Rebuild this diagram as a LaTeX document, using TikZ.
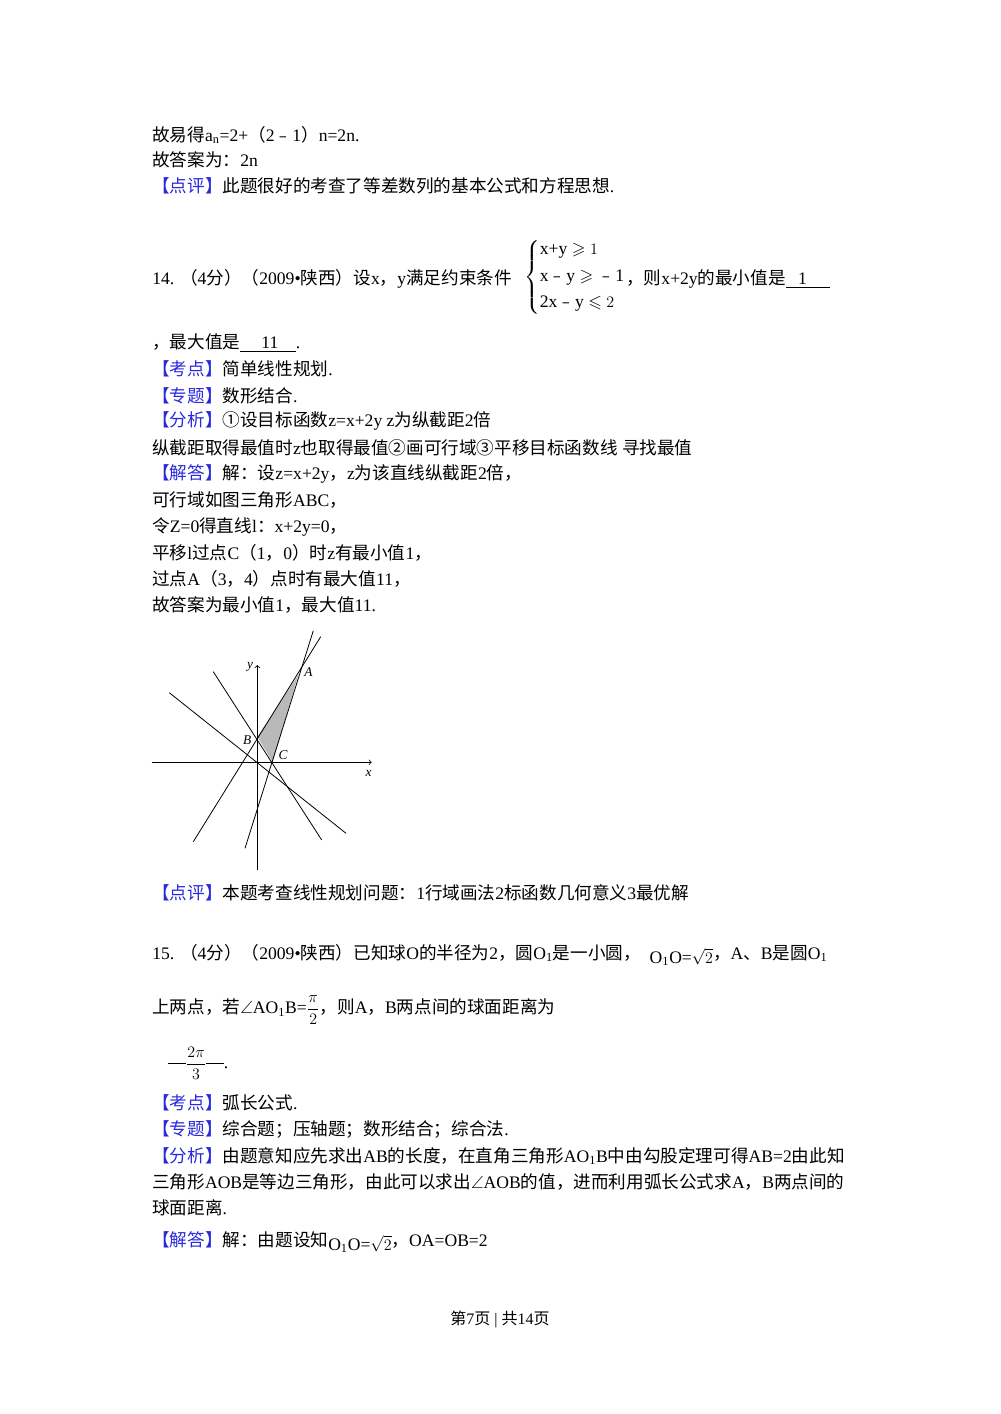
\documentclass[tikz,border=0pt]{standalone}
\usepackage{amssymb,amsmath}
\usepackage{fontspec}
\setmainfont{Liberation Serif}
\newfontfamily\cjk{Noto Sans CJK SC}
\XeTeXinterchartokenstate=1
\newXeTeXintercharclass\CJKcls
\newcount\cc
\def\setcls#1#2{\cc=#1 \loop \XeTeXcharclass\cc=\CJKcls \ifnum\cc<#2 \advance\cc by 1 \repeat}
\setcls{"3000}{"9FFF}
\setcls{"FF00}{"FFEF}
\setcls{"FE30}{"FE6F}
\setcls{"2460}{"2473}
\XeTeXinterchartoks 0 \CJKcls = {\begingroup\cjk}
\XeTeXinterchartoks 4095 \CJKcls = {\begingroup\cjk}
\XeTeXinterchartoks \CJKcls 0 = {\endgroup}
\XeTeXinterchartoks \CJKcls 4095 = {\endgroup}
\definecolor{tagblue}{RGB}{40,40,220}
\newcommand{\tg}[1]{\textcolor{tagblue}{#1}}
\begin{document}
\begin{tikzpicture}[x=0.75pt,y=-0.75pt,
  tx/.style={anchor=west,inner sep=0pt,font=\fontsize{13.2}{16}\selectfont},
  lab/.style={inner sep=0pt,font=\fontsize{10}{12}\selectfont\itshape},
  ln/.style={line width=0.6pt}]
\useasboundingbox (0,0) rectangle (1000,1414);
\node[tx] (l1) at (152,135) {故易得a$_{\mathrm{n}}$=2+（2﹣1）n=2n.};
\node[tx] (l2) at (152,160) {故答案为：2n};
\node[tx] (l3) at (152,186) {\tg{【点评】}此题很好的考查了等差数列的基本公式和方程思想.};
\node[tx] (q14) at (152,279) {14. （4分）（2009•陕西）设x，y满足约束条件};
\node[tx,anchor=west] (sys) at (524,277) {$\left\{\begin{array}{@{}l@{}}\mbox{x+y}\geqslant 1\\[4pt] \mbox{x﹣y}\geqslant \mbox{﹣1}\\[4pt] \mbox{2x﹣y}\leqslant 2\end{array}\right.$};
\node[tx] (q14b) at (626,279) {，则x+2y的最小值是\underline{\hspace{0.7em}1\hspace{1.3em}}};
\node[tx] (l5) at (152,343) {，最大值是\underline{\hspace{1.2em}11\hspace{1em}}.};
\node[tx] (l6) at (152,369) {\tg{【考点】}简单线性规划.};
\node[tx] (l7) at (152,396) {\tg{【专题】}数形结合.};
\node[tx] (l8) at (152,421) {\tg{【分析】}①设目标函数z=x+2y z为纵截距2倍};
\node[tx] (l9) at (152,448) {纵截距取得最值时z也取得最值②画可行域③平移目标函数线 寻找最值};
\node[tx] (l10) at (152,474) {\tg{【解答】}解：设z=x+2y，z为该直线纵截距2倍，};
\node[tx] (l11) at (152,500) {可行域如图三角形ABC，};
\node[tx] (l12) at (152,527) {令Z=0得直线l：x+2y=0，};
\node[tx] (l13) at (152,553) {平移l过点C（1，0）时z有最小值1，};
\node[tx] (l14) at (152,579) {过点A（3，4）点时有最大值11，};
\node[tx] (l15) at (152,605) {故答案为最小值1，最大值11.};
% graph
\coordinate (A) at (298.3,675);
\coordinate (B) at (257.3,736.7);
\coordinate (C) at (272.7,762.3);
\fill[gray!55] (A) -- (B) -- (C) -- cycle;
\draw[ln,->] (151.7,762.3) -- (371.7,762.3);
\draw[ln,->] (257.3,870) -- (257.3,665);
\draw[ln] (193.3,841.7) -- (320.7,636.7);
\draw[ln] (245,848.3) -- (313.3,630.7);
\draw[ln] (213.3,671.7) -- (321.7,840);
\draw[ln] (169.3,692.7) -- (346,833.3);
\node[lab] (lA) at (308.5,671.7) {A};
\node[lab] (lB) at (247.3,740) {B};
\node[lab] (lC) at (283,755) {C};
\node[lab] (ly) at (250,667) {y};
\node[lab] (lx) at (368.5,773) {x};
\node[tx] (l16) at (152,893) {\tg{【点评】}本题考查线性规划问题：1行域画法2标函数几何意义3最优解};
\node[tx] (q15) at (152,955) {15. （4分）（2009•陕西）已知球O的半径为2，圆O$_{\mathrm{1}}$是一小圆，\ \ \raisebox{-3pt}{O$_{\mathrm{1}}$O=$\sqrt{2}$}，A、B是圆O$_{\mathrm{1}}$};
\node[tx] (l17) at (152,1010) {上两点，若$\angle$AO$_{\mathrm{1}}$B=$\dfrac{\pi}{2}$，则A，B两点间的球面距离为};
\node[tx] (l18) at (168,1063) {\rule[3pt]{1em}{0.5pt}$\dfrac{2\pi}{3}$\rule[3pt]{1em}{0.5pt}.};
\node[tx] (l19) at (152,1103) {\tg{【考点】}弧长公式.};
\node[tx] (l20) at (152,1129) {\tg{【专题】}综合题；压轴题；数形结合；综合法.};
\node[tx] (l21) at (152,1156) {\tg{【分析】}由题意知应先求出AB的长度，在直角三角形AO$_{\mathrm{1}}$B中由勾股定理可得AB=2由此知};
\node[tx] (l22) at (152,1182) {三角形AOB是等边三角形，由此可以求出$\angle$AOB的值，进而利用弧长公式求A，B两点间的};
\node[tx] (l23) at (152,1208) {球面距离.};
\node[tx] (l24) at (152,1242) {\tg{【解答】}解：由题设知\raisebox{-3pt}{O$_{\mathrm{1}}$O=$\sqrt{2}$}，OA=OB=2};
\node[font=\fontsize{12}{14}\selectfont] (ft) at (500,1319) {第7页 | 共14页};
\end{tikzpicture}
\end{document}
